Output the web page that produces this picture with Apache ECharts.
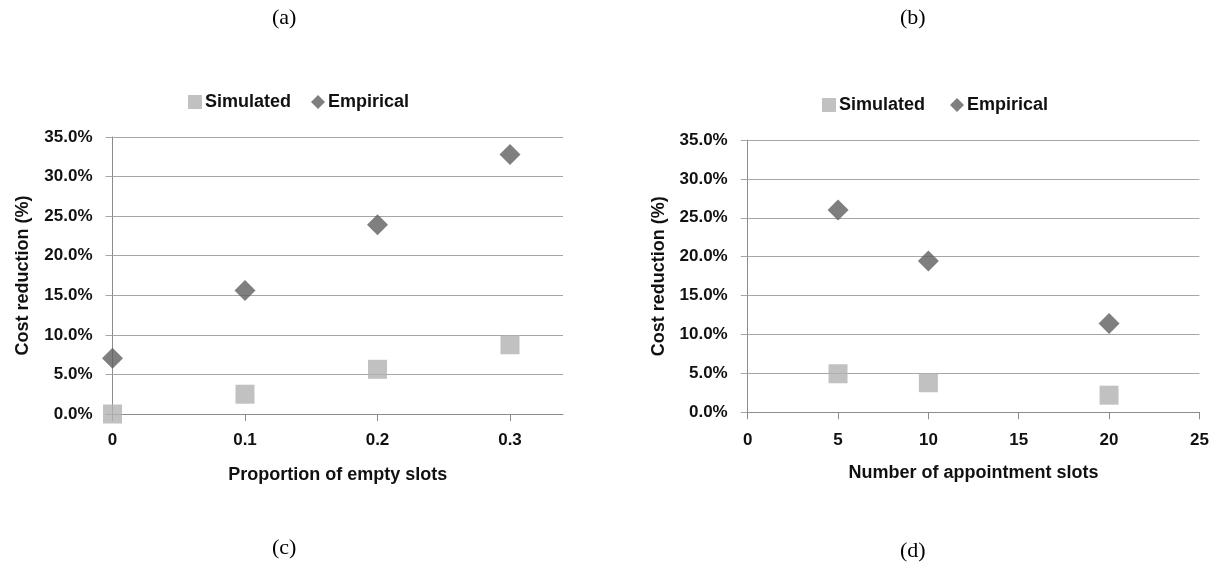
<!DOCTYPE html>
<html>
<head>
<meta charset="utf-8">
<script src="https://cdn.jsdelivr.net/npm/echarts@6/dist/echarts.min.js"></script>
<style>
html,body{margin:0;padding:0;background:#fff;}
#c{width:1221px;height:577px;}
</style>
</head>
<body>
<div id="c"></div>
<script>
// ---- data ----
const emptyProportion = [0, 0.1, 0.2, 0.3];
const simulatedA = [0.0, 2.5, 5.65, 8.75];
const empiricalA = [7.05, 15.6, 23.9, 32.8];

const apptSlots = [5, 10, 20];
const simulatedB = [4.95, 3.8, 2.2];
const empiricalB = [26.0, 19.45, 11.4];

const xTicksA = [0, 0.1, 0.2, 0.3];
const xTicksB = [0, 5, 10, 15, 20, 25];
const panelLabels = ['(a)', '(b)', '(c)', '(d)'];

const seriesNames = ['Simulated', 'Empirical'];
const xTitles = ['Proportion of empty slots', 'Number of appointment slots'];
const yTitle = 'Cost reduction (%)';

// ---- styles ----
const FONT = '"Liberation Sans", Arial, sans-serif';
const SIM_COLOR = '#b2b2b2';
const EMP_COLOR = '#5f5f5f';
const GRID_COLOR = '#a6a6a6';
const AXIS_COLOR = '#8c8c8c';

function pairs(xs, ys){ return xs.map((x,i)=>[x, ys[i]]); }

const yAxisCommon = {
  type: 'value', min: 0, max: 35, interval: 5,
  name: yTitle, nameLocation: 'middle', nameGap: 80,
  nameTextStyle: {fontFamily: FONT, fontWeight: 'bold', fontSize: 18, color: '#111'},
  axisLine: {show: true, lineStyle: {color: AXIS_COLOR, width: 1}},
  axisTick: {show: true, length: 7, lineStyle: {color: GRID_COLOR}},
  axisLabel: {fontFamily: FONT, fontWeight: 'bold', fontSize: 17, color: '#111', margin: 20,
    formatter: v => v.toFixed(1) + '%'},
  splitLine: {show: true, lineStyle: {color: GRID_COLOR, width: 1}}
};

const option = {
  animation: false,
  backgroundColor: '#fff',
  grid: [
    {left: 112.5, right: 1221 - 563, top: 137, bottom: 577 - 414},
    {left: 747.7, right: 1221 - 1199.4, top: 140, bottom: 577 - 412.3}
  ],
  xAxis: [
    {gridIndex: 0, type: 'value', min: 0, max: 0.34, interval: 0.1,
      name: xTitles[0], nameLocation: 'middle', nameGap: 52,
      nameTextStyle: {fontFamily: FONT, fontWeight: 'bold', fontSize: 18, color: '#111'},
      axisLine: {show: true, onZero: false, lineStyle: {color: AXIS_COLOR}},
      axisTick: {show: true, length: 7, lineStyle: {color: AXIS_COLOR}, customValues: xTicksA},
      axisLabel: {fontFamily: FONT, fontWeight: 'bold', fontSize: 17, color: '#111', margin: 18,
        customValues: xTicksA, formatter: v => String(Math.round(v*10)/10)},
      splitLine: {show: false}},
    {gridIndex: 1, type: 'value', min: 0, max: 25, interval: 5,
      name: xTitles[1], nameLocation: 'middle', nameGap: 52,
      nameTextStyle: {fontFamily: FONT, fontWeight: 'bold', fontSize: 18, color: '#111'},
      axisLine: {show: true, onZero: false, lineStyle: {color: AXIS_COLOR}},
      axisTick: {show: true, length: 7, lineStyle: {color: AXIS_COLOR}, customValues: xTicksB},
      axisLabel: {fontFamily: FONT, fontWeight: 'bold', fontSize: 17, color: '#111', margin: 20,
        customValues: xTicksB},
      splitLine: {show: false}}
  ],
  yAxis: [
    Object.assign({gridIndex: 0}, yAxisCommon),
    Object.assign({gridIndex: 1}, yAxisCommon)
  ],
  legend: [
    {left: 183, top: 88, itemWidth: 14, itemHeight: 14, itemGap: 20,
      data: [{name: seriesNames[0], icon: 'rect'}, {name: seriesNames[1], icon: 'diamond'}],
      textStyle: {fontFamily: FONT, fontWeight: 'bold', fontSize: 18, color: '#111', padding: [0,0,0,-2]}},
    {left: 817, top: 91, itemWidth: 14, itemHeight: 14, itemGap: 20,
      data: [{name: seriesNames[0] + ' ', icon: 'rect'}, {name: seriesNames[1] + ' ', icon: 'diamond'}],
      textStyle: {fontFamily: FONT, fontWeight: 'bold', fontSize: 18, color: '#111', padding: [0,0,0,-2]}}
  ],
  graphic: [
    {type: 'text', left: 272, top: 7, style: {text: panelLabels[0], font: '22px "Liberation Serif", "Times New Roman", serif', fill: '#000'}},
    {type: 'text', left: 900, top: 7, style: {text: panelLabels[1], font: '22px "Liberation Serif", "Times New Roman", serif', fill: '#000'}},
    {type: 'text', left: 272, top: 537, style: {text: panelLabels[2], font: '22px "Liberation Serif", "Times New Roman", serif', fill: '#000'}},
    {type: 'text', left: 900, top: 540, style: {text: panelLabels[3], font: '22px "Liberation Serif", "Times New Roman", serif', fill: '#000'}}
  ],
  series: [
    {name: seriesNames[0], type: 'scatter', xAxisIndex: 0, yAxisIndex: 0, symbol: 'rect', symbolSize: 19,
      itemStyle: {color: SIM_COLOR}, data: pairs(emptyProportion, simulatedA)},
    {name: seriesNames[1], type: 'scatter', xAxisIndex: 0, yAxisIndex: 0, symbol: 'diamond', symbolSize: 21,
      itemStyle: {color: EMP_COLOR}, data: pairs(emptyProportion, empiricalA)},
    {name: seriesNames[0] + ' ', type: 'scatter', xAxisIndex: 1, yAxisIndex: 1, symbol: 'rect', symbolSize: 19,
      itemStyle: {color: SIM_COLOR}, data: pairs(apptSlots, simulatedB)},
    {name: seriesNames[1] + ' ', type: 'scatter', xAxisIndex: 1, yAxisIndex: 1, symbol: 'diamond', symbolSize: 21,
      itemStyle: {color: EMP_COLOR}, data: pairs(apptSlots, empiricalB)}
  ]
};

const chart = echarts.init(document.getElementById('c'), null, {renderer: 'canvas'});
chart.setOption(option);
</script>
</body>
</html>
